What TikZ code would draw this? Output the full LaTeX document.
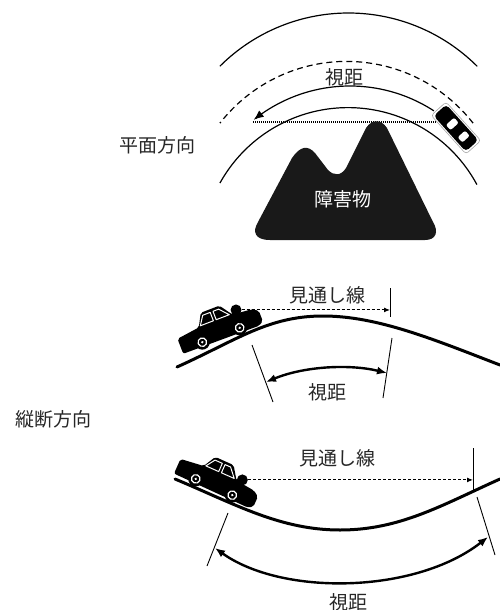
\documentclass[tikz,border=0pt]{standalone}
\usepackage{fontspec}
\newfontfamily\jpfont{Noto Sans CJK JP}
\usetikzlibrary{arrows.meta}

\tikzset{
  road/.style={line width=3pt, line cap=round},
  thinarc/.style={line width=1.2pt},
  tickline/.style={line width=0.9pt},
  span/.style={line width=2.4pt, {Latex[length=10pt,width=8pt]}-{Latex[length=10pt,width=8pt]}},
  sight/.style={line width=1pt, dash pattern=on 3pt off 2pt, -{Latex[length=6pt,width=5pt]}},
  lbl/.style={font=\jpfont\fontsize{19}{19}\selectfont, text=black!85, inner sep=0pt},
  head/.style={font=\jpfont\fontsize{19}{19}\selectfont, text=black!85, inner sep=0pt},
  % side view of a sedan, facing +x, origin midway between the wheels
  sidecar/.pic={
    \fill[rounded corners=2pt] (-42,4) -- (-42,-12) -- (-26,-14) -- (-18,-15) -- (-11,-28)
      -- (9,-28) -- (18,-15) -- (38,-13) -- (44,-9) -- (44,2) -- (39,5) -- cycle;
    \draw[white, line width=1pt, line join=round] (-16,-16) -- (-10,-25) -- (-2,-25) -- (-2,-16) -- cycle;
    \draw[white, line width=1pt, line join=round] (1,-16) -- (1,-25) -- (7,-25) -- (15,-16) -- cycle;
    \foreach \wx in {-20,20}{
      \fill (\wx,0) circle (7.5pt);
      \draw[white, line width=1.2pt] (\wx,0) circle (4.3pt);
      \fill[white] (\wx,0) circle (1.3pt);
    }
    \node[circle, fill, minimum size=11pt, inner sep=0pt] (-eye) at (23,-18) {};
  }
}

\begin{document}
\begin{tikzpicture}[x=1pt,y=-1pt]
\useasboundingbox (0,0) rectangle (500,610);

% ---------- plan view ----------
\node[head] (planlbl) at (157,145) {平面方向};

% road edges and lane line
\draw[thinarc] plot[domain=45:135, samples=90, variable=\t] ({348.5+182*cos(\t)},{195-182*sin(\t)});
\draw[thinarc, dash pattern=on 6pt off 4pt] plot[domain=38:142, samples=90, variable=\t] ({346.5+160.6*cos(\t)},{222-160.6*sin(\t)});
\draw[thinarc] plot[domain=28.3:151, samples=90, variable=\t] ({348+146.4*cos(\t)},{254-146.4*sin(\t)});
% sight distance along the curve
\draw[thinarc, -{Latex[length=10pt,width=8pt]}] plot[domain=57:128.7, samples=80, variable=\t] ({350+154*cos(\t)},{240-154*sin(\t)});
\node[lbl] (plansd) at (344,77) {視距};

% line of sight, cut by the obstacle
\coordinate (losL) at (253,122);
\coordinate (losR) at (437,122);
\draw[line width=1.2pt, dash pattern=on 1pt off 1pt] (losL) -- (losR);

% obstacle: two rounded peaks on a flat base
\fill[black!90] (270,240) .. controls (255,240) and (252,232) .. (258,222)
  -- (292,158) .. controls (300,146) and (308,145) .. (315,153)
  -- (328,170) .. controls (334,176) and (341,176) .. (346,168)
  -- (366,128) .. controls (372,119) and (381,119) .. (387,128)
  -- (433,222) .. controls (439,232) and (436,240) .. (425,240) -- cycle;
\node[lbl, text=white] (obst) at (343,199) {障害物};

% car seen from above
\begin{scope}[shift={(456,128)}, rotate=-48]
  \draw[black!35, line width=0.6pt, rounded corners=3pt, fill=white] (-26,-10) rectangle (26,10);
  \fill[rounded corners=4pt] (-24,-8.5) rectangle (24,8.5);
  \fill[white, rounded corners=2pt] (-9,-5.5) rectangle (-2,5.5);
  \fill[white, rounded corners=2pt] (8,-5) rectangle (15,5);
\end{scope}

% ---------- profile: crest ----------
\node[head] (proflbl) at (53,419) {縦断方向};

\draw[road] (177,367) .. controls (237,340) and (268,316) .. (323,316)
                      .. controls (378,316) and (435,340) .. (500,365);
\pic[rotate=21] (carA) at (221,335) {sidecar};

\coordinate (tickAtop) at (390,288);
\coordinate (tickAbot) at (390,317);
\draw[tickline] (tickAtop) -- (tickAbot);
\draw[sight] (carA-eye.east) -- (carA-eye.east -| tickAtop);
\node[lbl] (crestlos) at (327,295) {見通し線};

\coordinate (crestL1) at (252,345);
\coordinate (crestL2) at (273,402);
\coordinate (crestR1) at (392,338);
\coordinate (crestR2) at (383,398);
\draw[tickline] (crestL1) -- (crestL2);
\draw[tickline] (crestR1) -- (crestR2);
\coordinate (crestSL) at (266,382);
\coordinate (crestSR) at (387,373);
\draw[span] (crestSL) .. controls (305,366) and (350,364) .. (crestSR);
\node[lbl] (crestsd) at (327,392) {視距};

% ---------- profile: sag ----------
\draw[road] (175,479) .. controls (235,504) and (280,530) .. (340,530)
                      .. controls (400,530) and (442,505) .. (500,479);
\pic[rotate=-24] (carB) at (214,487) {sidecar};

\coordinate (tickBtop) at (473,448);
\coordinate (tickBbot) at (473,490);
\draw[tickline] (tickBtop) -- (tickBbot);
\draw[sight] (carB-eye.east) -- (carB-eye.east -| tickBtop);
\node[lbl] (saglos) at (337,458) {見通し線};

\coordinate (sagL1) at (228,513);
\coordinate (sagL2) at (207,566);
\coordinate (sagR1) at (477,497);
\coordinate (sagR2) at (495,555);
\draw[tickline] (sagL1) -- (sagL2);
\draw[tickline] (sagR1) -- (sagR2);
\coordinate (sagSL) at (215,548);
\coordinate (sagSR) at (488,537);
\draw[span] (sagSL) .. controls (282,596) and (415,594) .. (sagSR);
\node[lbl] (sagsd) at (348,602) {視距};

\end{tikzpicture}
\end{document}
